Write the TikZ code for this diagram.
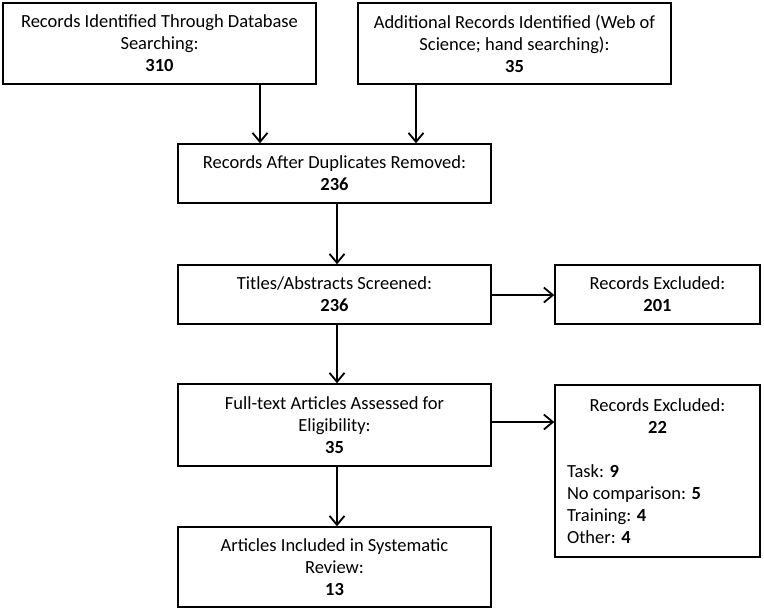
\documentclass[tikz,border=0pt]{standalone}
\usepackage{fontspec}
\setmainfont{Carlito}
\usetikzlibrary{arrows.meta}

\begin{document}
\begin{tikzpicture}[x=1pt, y=-1pt,
        box/.style={draw, line width=1.5pt, align=center, inner sep=0pt,
            font=\fontsize{18.5}{22}\selectfont},
        wide/.style={box, minimum width=313pt},
        side/.style={box, minimum width=205pt},
        flow/.style={line width=2pt,
            -{Straight Barb[length=9pt, width=15pt, line width=1.8pt]}}]
        \useasboundingbox (0, 0) rectangle (764, 611);

        \node[wide, minimum height=81pt] (database) at (159.5, 43.5)
            {Records Identified Through Database\\Searching:\\\textbf{310}};
        \node[wide, minimum height=81pt] (additional) at (514.5, 43.5)
            {Additional Records Identified (Web of\\Science; hand searching):\\\textbf{35}};
        \node[wide, minimum height=59pt] (dedup) at (334.5, 173.5)
            {Records After Duplicates Removed:\\\textbf{236}};
        \node[wide, minimum height=59pt] (screened) at (334.5, 294.5)
            {Titles/Abstracts Screened:\\\textbf{236}};
        \node[side, minimum height=59pt] (excluded1) at (657.5, 294.5)
            {Records Excluded:\\\textbf{201}};
        \node[wide, minimum height=82pt] (fulltext) at (334.5, 425)
            {Full-text Articles Assessed for\\Eligibility:\\\textbf{35}};
        \node[side, minimum height=172pt] (excluded2) at (657.5, 471)
            {Records Excluded:\\
             \textbf{22}\\[22pt]
             \makebox[181pt][l]{Task: \textbf{9}}\\
             \makebox[181pt][l]{No comparison: \textbf{5}}\\
             \makebox[181pt][l]{Training: \textbf{4}}\\
             \makebox[181pt][l]{Other: \textbf{4}}};
        \node[wide, minimum height=80pt] (included) at (334.5, 567)
            {Articles Included in Systematic\\Review:\\\textbf{13}};

        \draw[flow] ([xshift=100.5pt]database.south) -- ([xshift=100.5pt]database.south |- dedup.north);
        \draw[flow] ([xshift=-98.5pt]additional.south) -- ([xshift=-98.5pt]additional.south |- dedup.north);
        \draw[flow] ([xshift=2.5pt]dedup.south) -- ([xshift=2.5pt]screened.north);
        \draw[flow] ([yshift=-0.5pt]screened.east) -- ([yshift=-0.5pt]excluded1.west);
        \draw[flow] ([xshift=2.5pt]screened.south) -- ([xshift=2.5pt]fulltext.north);
        \draw[flow] ([yshift=3pt]fulltext.east) -- ([yshift=3pt]fulltext.east -| excluded2.west);
        \draw[flow] ([xshift=2.5pt]fulltext.south) -- ([xshift=2.5pt]included.north);
    \end{tikzpicture}
\end{document}
